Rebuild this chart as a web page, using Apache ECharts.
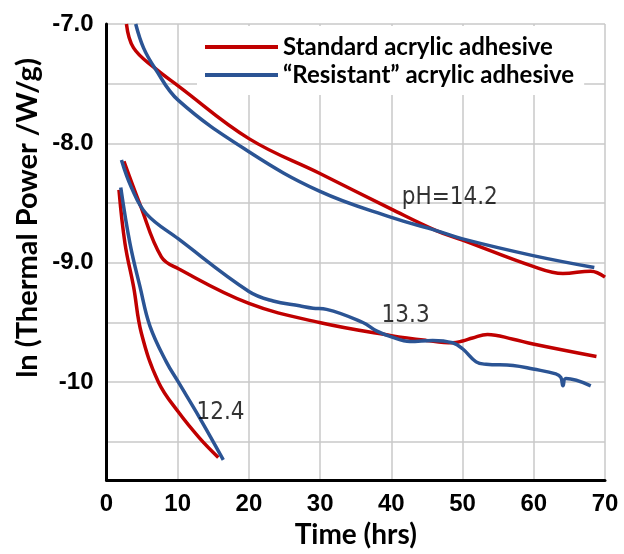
<!DOCTYPE html>
<html>
<head>
<meta charset="utf-8">
<title>Thermal power</title>
<script src="https://cdn.jsdelivr.net/npm/echarts@6/dist/echarts.min.js"></script>
<style>
    html, body { margin: 0; padding: 0; background: #fff; }
    #main { width: 624px; height: 554px; }
</style>
</head>
<body>
<div id="main"></div>
<script>
// curves: [time (hrs), ln(thermal power)]
var std142 = [[2.8, -7.0], [3.8, -7.2], [6.8, -7.37], [10.1, -7.52], [20.0, -7.96], [29.9, -8.25],
    [40.0, -8.55], [46.3, -8.73], [50.0, -8.81], [59.9, -9.03], [64.1, -9.09], [68.0, -9.07], [70.0, -9.12]];
var res142 = [[4.1, -7.0], [5.2, -7.2], [6.8, -7.37], [10.1, -7.64], [20.0, -8.07], [29.9, -8.4],
    [40.0, -8.62], [46.3, -8.73], [50.0, -8.8], [59.9, -8.94], [68.5, -9.04]];
var std133 = [[2.45, -8.15], [4.7, -8.51], [7.7, -8.95], [10.1, -9.05], [20.0, -9.34], [29.9, -9.5],
    [40.0, -9.61], [44.9, -9.65], [48.6, -9.67], [50.0, -9.655], [51.4, -9.63], [53.5, -9.6], [57.1, -9.64],
    [59.9, -9.68], [68.8, -9.785]];
var res133 = [[2.1, -8.14], [3.5, -8.37], [5.6, -8.59], [10.1, -8.8], [20.0, -9.24], [23.4, -9.32], [27.1, -9.36],
    [29.0, -9.38], [30.9, -9.39], [36.0, -9.5], [37.9, -9.57], [40.0, -9.62], [42.6, -9.66], [45.8, -9.65],
    [48.6, -9.67], [50.0, -9.72], [51.9, -9.83], [53.3, -9.85], [57.1, -9.86], [59.9, -9.89], [63.1, -9.93],
    [63.8, -9.96], [64.1, -10.03], [64.5, -9.97], [68.0, -10.03]];
var std124 = [[1.75, -8.39], [2.6, -8.84], [3.8, -9.2], [4.9, -9.59], [7.3, -10.0], [10.1, -10.25], [13.1, -10.47],
    [15.7, -10.63]];
var res124 = [[2.0, -8.37], [3.3, -8.84], [4.7, -9.2], [6.1, -9.53], [8.4, -9.83], [10.1, -10.0], [13.1, -10.3],
    [16.4, -10.65]];

// pH annotations: [text, x, y]
var phLabels = [['pH=14.2', 48.2, -8.456], ['13.3', 42.0, -9.44], ['12.4', 16.0, -10.255]];

var seriesNames = ['Standard acrylic adhesive', '\u201cResistant\u201d acrylic adhesive'];
var xTicks = [0, 10, 20, 30, 40, 50, 60, 70];
var yGridValues = [-10.5, -10, -9.5, -9, -8.5, -8, -7.5, -7];
var yLabelValues = [-10, -9, -8, -7];
var yLabelText = ['-10', '-9.0', '-8.0', '-7.0'];

var RED = '#C00000';
var BLUE = '#2B5494';

function curve(name, data, color) {
    return {
        name: name,
        type: 'line',
        data: data,
        smooth: 0.4,
        showSymbol: false,
        symbol: 'none',
        lineStyle: { color: color, width: 3.5 },
        itemStyle: { color: color },
        clip: true,
        z: 3
    };
}

var myChart = echarts.init(document.getElementById('main'), null, { renderer: 'canvas' });

var option = {
    backgroundColor: '#fff',
    animation: false,
    grid: {
        left: 106.5,
        right: 19,
        top: 24,
        bottom: 68
    },
    legend: {
        data: seriesNames,
        orient: 'vertical',
        left: 197,
        top: 26,
        width: 408,
        padding: [9, 10, 8, 8],
        backgroundColor: '#fff',
        itemGap: 4,
        itemWidth: 73,
        itemHeight: 4,
        icon: 'rect',
        textStyle: {
            fontFamily: 'Lato',
            fontWeight: 'bold',
            fontSize: 24,
            lineHeight: 24,
            color: '#000'
        }
    },
    xAxis: {
        type: 'value',
        min: 0,
        max: 70,
        interval: 10,
        name: 'Time (hrs)',
        nameLocation: 'middle',
        nameGap: 39,
        nameTextStyle: { fontFamily: 'Lato', fontWeight: 'bold', fontSize: 28, color: '#000' },
        axisLine: { show: true, onZero: false, lineStyle: { color: '#000', width: 3 } },
        axisTick: { show: false },
        axisLabel: {
            margin: 12,
            fontFamily: 'Liberation Sans',
            fontWeight: 'bold',
            fontSize: 24,
            color: '#000',
            customValues: xTicks
        },
        splitLine: { show: true, lineStyle: { color: '#C8C8C8', width: 1.5 } }
    },
    yAxis: {
        type: 'value',
        min: -10.82,
        max: -7,
        axisLine: { show: true, onZero: false, lineStyle: { color: '#000', width: 3 } },
        axisTick: { show: false, customValues: yGridValues },
        axisLabel: {
            margin: 13,
            fontFamily: 'Liberation Sans',
            fontWeight: 'bold',
            fontSize: 24,
            color: '#000',
            customValues: yLabelValues,
            formatter: function (v) {
                var i = yLabelValues.indexOf(v);
                return i >= 0 ? yLabelText[i] : '';
            }
        },
        splitLine: { show: true, lineStyle: { color: '#C8C8C8', width: 1.5 } }
    },
    graphic: [{
        type: 'text',
        x: 28,
        y: 218,
        rotation: Math.PI / 2,
        style: {
            text: 'ln (Thermal Power /W/g)',
            fontFamily: 'Lato',
            fontWeight: 'bold',
            fontSize: 29,
            fill: '#000',
            align: 'center',
            verticalAlign: 'middle'
        }
    }],
    series: [
        curve(seriesNames[0], std142, RED),
        curve(seriesNames[1], res142, BLUE),
        curve(seriesNames[0], std133, RED),
        curve(seriesNames[1], res133, BLUE),
        curve(seriesNames[0], std124, RED),
        curve(seriesNames[1], res124, BLUE),
        {
            name: 'ph',
            type: 'scatter',
            symbolSize: 0,
            silent: true,
            z: 4,
            itemStyle: { color: '#000' },
            data: phLabels.map(function (p) {
                return { name: p[0], value: [p[1], p[2]] };
            }),
            label: {
                show: true,
                position: [0, 0],
                align: 'center',
                verticalAlign: 'middle',
                formatter: '{b}',
                fontFamily: 'Liberation Sans Narrow, DejaVu Sans Condensed',
                fontSize: 24,
                color: '#000',
                textBorderWidth: 0
            }
        }
    ]
};
myChart.setOption(option);
</script>
</body>
</html>
